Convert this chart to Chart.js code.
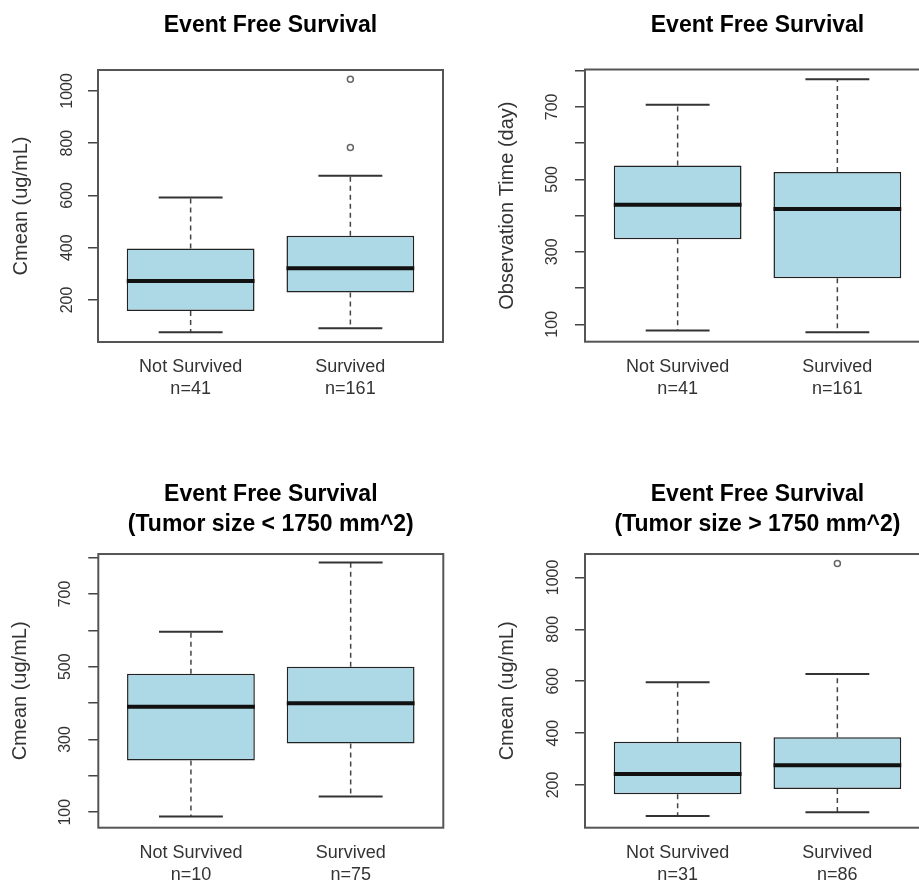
<!DOCTYPE html>
<html>
<head>
<meta charset="utf-8">
<script src="https://cdn.jsdelivr.net/npm/chart.js@4.4.1/dist/chart.umd.min.js"></script>
<style>
html,body{margin:0;padding:0;background:#fff;overflow:hidden;width:919px;height:881px;position:relative}
canvas{position:absolute}
</style>
</head>
<body>
<canvas id="c1" width="460" height="440" style="left:0px;top:0px;width:460px;height:440px"></canvas>
<canvas id="c2" width="490" height="440" style="left:459px;top:0px;width:490px;height:440px"></canvas>
<canvas id="c3" width="460" height="441" style="left:0px;top:440px;width:460px;height:441px"></canvas>
<canvas id="c4" width="490" height="441" style="left:459px;top:440px;width:490px;height:441px"></canvas>
<script>
// ---------- data ----------
const categories = ['Not Survived', 'Survived'];

// Panel 1: Event Free Survival, Cmean
const p1Counts = [41, 161];
const p1Low = [76, 92];
const p1Q1 = [158, 228];
const p1Median = [272, 321];
const p1Q3 = [397, 446];
const p1High = [592, 675];
const p1Outliers = [[], [783, 1045]];
const p1YTicks = [200, 400, 600, 800, 1000];
const p1YTickLabels = ['200', '400', '600', '800', '1000'];

// Panel 2: Event Free Survival, Observation Time
const p2Counts = [41, 161];
const p2Low = [83, 78];
const p2Q1 = [335, 227];
const p2Median = [430, 418];
const p2Q3 = [538, 520];
const p2High = [706, 776];
const p2Outliers = [[], []];
const p2YTicks = [100, 200, 300, 400, 500, 600, 700, 800];
const p2YTickLabels = ['100', '', '300', '', '500', '', '700', ''];

// Panel 3: Tumor size < 1750 mm^2
const p3Counts = [10, 75];
const p3Low = [88, 143];
const p3Q1 = [242, 289];
const p3Median = [390, 400];
const p3Q3 = [481, 500];
const p3High = [596, 787];
const p3Outliers = [[], []];
const p3YTicks = [100, 200, 300, 400, 500, 600, 700, 800];
const p3YTickLabels = ['100', '', '300', '', '500', '', '700', ''];

// Panel 4: Tumor size > 1750 mm^2
const p4Counts = [31, 86];
const p4Low = [81, 95];
const p4Q1 = [164, 185];
const p4Median = [242, 276];
const p4Q3 = [367, 384];
const p4High = [596, 628];
const p4Outliers = [[], [1053]];
const p4YTicks = [200, 400, 600, 800, 1000];
const p4YTickLabels = ['200', '400', '600', '800', '1000'];

// ---------- drawing ----------
const FONT = "'Liberation Sans', Arial, Helvetica, sans-serif";

const framePlugin = {
  id: 'frame',
  afterDraw(chart) {
    const a = chart.chartArea, ctx = chart.ctx;
    ctx.save();
    ctx.strokeStyle = '#555';
    ctx.lineWidth = 2;
    ctx.strokeRect(a.left, a.top, a.right - a.left, a.bottom - a.top);
    ctx.restore();
  }
};

function makePanel(id, d, g) {
  const boxData = categories.map((c, i) => ({x: i + 1, y: [d.q1[i], d.q3[i]]}));
  const whiskerData = [], capData = [], medianData = [], outlierData = [];
  categories.forEach((c, i) => {
    const x = i + 1;
    whiskerData.push({x: x, y: d.q3[i]}, {x: x, y: d.high[i]}, {x: x, y: null},
                     {x: x, y: d.q1[i]}, {x: x, y: d.low[i]}, {x: x, y: null});
    capData.push({x: x - 0.2, y: d.high[i]}, {x: x + 0.2, y: d.high[i]}, {x: x, y: null},
                 {x: x - 0.2, y: d.low[i]}, {x: x + 0.2, y: d.low[i]}, {x: x, y: null});
    medianData.push({x: x - 0.4, y: d.median[i]}, {x: x + 0.4, y: d.median[i]}, {x: x, y: null});
    d.outliers[i].forEach(v => outlierData.push({x: x, y: v}));
  });

  new Chart(document.getElementById(id), {
    type: 'bar',
    data: {
      datasets: [
        {type: 'line', data: medianData, borderColor: '#111', borderWidth: 4, pointRadius: 0,
         spanGaps: false, fill: false, borderCapStyle: 'butt', order: 0},
        {type: 'scatter', data: outlierData, pointStyle: 'circle', pointRadius: 3,
         backgroundColor: 'rgba(0,0,0,0)', borderColor: '#666', borderWidth: 1.5, order: 1},
        {type: 'line', data: capData, borderColor: '#333', borderWidth: 2, pointRadius: 0,
         spanGaps: false, fill: false, order: 2},
        {type: 'line', data: whiskerData, borderColor: '#444', borderWidth: 1.5, borderDash: [5, 4],
         pointRadius: 0, spanGaps: false, fill: false, order: 3},
        {type: 'bar', data: boxData, backgroundColor: '#ADD8E6', borderColor: '#222', borderWidth: 1.5,
         borderSkipped: false, categoryPercentage: 1, barPercentage: 0.8, order: 4}
      ]
    },
    options: {
      responsive: false,
      animation: false,
      devicePixelRatio: 1,
      events: [],
      layout: {padding: {left: 0, top: 0, right: g.padR, bottom: 0}},
      plugins: {
        legend: {display: false},
        tooltip: {enabled: false},
        title: {
          display: true, text: d.title, fullSize: false, color: '#000',
          font: {family: FONT, size: 23, weight: 'bold', lineHeight: 1.283},
          padding: {top: g.titleTop, bottom: g.titleBottom}
        }
      },
      scales: {
        x: {
          type: 'linear', min: 0.42, max: 2.58, offset: false,
          grid: {display: false}, border: {display: false},
          afterBuildTicks: s => { s.ticks = categories.map((c, i) => ({value: i + 1})); },
          afterFit: s => { s.height = g.xH; },
          ticks: {
            autoSkip: false, maxRotation: 0, minRotation: 0, padding: 6, color: '#333',
            font: {family: FONT, size: 18, lineHeight: 1.22},
            callback: (v, i) => [categories[i], 'n=' + d.counts[i]]
          }
        },
        y: {
          type: 'linear', min: g.yMin, max: g.yMax,
          grid: {display: true, drawOnChartArea: false, drawTicks: true, tickLength: 10,
                 color: '#444', lineWidth: 1.5},
          border: {display: false},
          afterBuildTicks: s => { s.ticks = d.yTicks.map(v => ({value: v})); },
          afterFit: s => { s.width = g.yW; },
          title: {
            display: true, text: d.yTitle, color: '#333',
            font: {family: FONT, size: 20, lineHeight: 1.2},
            padding: {top: g.yTitlePad, bottom: 0}
          },
          ticks: {
            autoSkip: false, minRotation: 90, maxRotation: 90, crossAlign: 'center',
            padding: g.yTickPad, color: '#333', font: {family: FONT, size: 16},
            callback: (v, i) => d.yLabels[i]
          }
        }
      }
    },
    plugins: [framePlugin]
  });
}

makePanel('c1', {
  title: 'Event Free Survival', yTitle: 'Cmean (ug/mL)', counts: p1Counts,
  low: p1Low, q1: p1Q1, median: p1Median, q3: p1Q3, high: p1High, outliers: p1Outliers,
  yTicks: p1YTicks, yLabels: p1YTickLabels
}, {padR: 17, xH: 98, yW: 98, titleTop: 11.25, titleBottom: 29.25, yMin: 39, yMax: 1080, yTitlePad: 9, yTickPad: 2.9});

makePanel('c2', {
  title: 'Event Free Survival', yTitle: 'Observation Time (day)', counts: p2Counts,
  low: p2Low, q1: p2Q1, median: p2Median, q3: p2Q3, high: p2High, outliers: p2Outliers,
  yTicks: p2YTicks, yLabels: p2YTickLabels
}, {padR: 19, xH: 98.3, yW: 126, titleTop: 11.25, titleBottom: 28.75, yMin: 52, yMax: 803, yTitlePad: 36, yTickPad: 8.7});

makePanel('c3', {
  title: ['Event Free Survival', '(Tumor size < 1750 mm^2)'], yTitle: 'Cmean (ug/mL)', counts: p3Counts,
  low: p3Low, q1: p3Q1, median: p3Median, q3: p3Q3, high: p3High, outliers: p3Outliers,
  yTicks: p3YTicks, yLabels: p3YTickLabels
}, {padR: 16.7, xH: 53.3, yW: 98.3, titleTop: 40, titleBottom: 15, yMin: 57.5, yMax: 810, yTitlePad: 8, yTickPad: 9.5});

makePanel('c4', {
  title: ['Event Free Survival', '(Tumor size > 1750 mm^2)'], yTitle: 'Cmean (ug/mL)', counts: p4Counts,
  low: p4Low, q1: p4Q1, median: p4Median, q3: p4Q3, high: p4High, outliers: p4Outliers,
  yTicks: p4YTicks, yLabels: p4YTickLabels
}, {padR: 19, xH: 53.3, yW: 126, titleTop: 40, titleBottom: 15, yMin: 35.5, yMax: 1090, yTitlePad: 36, yTickPad: 3.2});
</script>
</body>
</html>
